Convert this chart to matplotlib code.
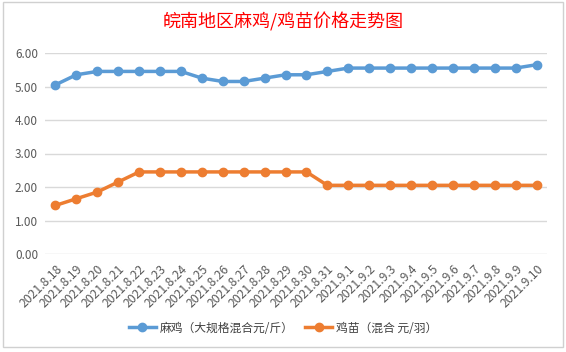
import matplotlib.pyplot as plt
from matplotlib.patches import Rectangle

plt.rcParams['font.family'] = ['Noto Sans CJK SC', 'DejaVu Sans']

# data
dates = ["2021.8.18", "2021.8.19", "2021.8.20", "2021.8.21", "2021.8.22", "2021.8.23",
         "2021.8.24", "2021.8.25", "2021.8.26", "2021.8.27", "2021.8.28", "2021.8.29",
         "2021.8.30", "2021.8.31", "2021.9.1", "2021.9.2", "2021.9.3", "2021.9.4",
         "2021.9.5", "2021.9.6", "2021.9.7", "2021.9.8", "2021.9.9", "2021.9.10"]
ma_ji = [5.05, 5.35, 5.45, 5.45, 5.45, 5.45, 5.45, 5.25, 5.15, 5.15, 5.25, 5.35,
         5.35, 5.45, 5.55, 5.55, 5.55, 5.55, 5.55, 5.55, 5.55, 5.55, 5.55, 5.65]
ji_miao = [1.45, 1.65, 1.85, 2.15, 2.45, 2.45, 2.45, 2.45, 2.45, 2.45, 2.45, 2.45,
           2.45, 2.05, 2.05, 2.05, 2.05, 2.05, 2.05, 2.05, 2.05, 2.05, 2.05, 2.05]
yticks = [0, 1, 2, 3, 4, 5, 6]

fig = plt.figure(figsize=(5.66, 3.52), dpi=100)
# chart frame like the spreadsheet chart area
fig.patches.append(Rectangle((3 / 566, 5 / 352), 560 / 566, 345 / 352, transform=fig.transFigure,
                             fill=False, edgecolor='#d0d0d0', lw=1))

ax = fig.add_axes([45 / 566, 1 - 254 / 352, 502 / 566, 201 / 352])
x = range(len(dates))
ax.plot(x, ma_ji, color='#5b9bd5', lw=2.5, marker='o', ms=6, label='麻鸡（大规格混合元/斤）')
ax.plot(x, ji_miao, color='#ed7d31', lw=2.5, marker='o', ms=6, label='鸡苗（混合 元/羽）')

ax.set_xlim(-0.5, len(dates) - 0.5)
ax.set_ylim(0, 6)
ax.set_yticks(yticks)
ax.set_yticklabels([f"{v:.2f}" for v in yticks], fontsize=8.5, color='#595959')
ax.set_xticks(list(x))
ax.set_xticklabels(dates, rotation=45, ha='right', rotation_mode='anchor',
                   fontsize=8.8, color='#595959')
ax.tick_params(axis='y', length=0, pad=5)
ax.tick_params(axis='x', length=0, pad=6)
ax.grid(axis='y', color='#d9d9d9', lw=1)
ax.set_axisbelow(True)
for s in ax.spines.values():
    s.set_visible(False)

fig.text(0.5, 1 - 22 / 352, '皖南地区麻鸡/鸡苗价格走势图', color='red', fontsize=13,
         ha='center', va='center')

fig.legend(loc='center', bbox_to_anchor=(0.5, 1 - 328 / 352), ncol=2, frameon=False,
           fontsize=8.5, handlelength=2.3, handletextpad=0.3, columnspacing=1.0,
           labelcolor='#404040')

fig.savefig('out.png', dpi=100)
